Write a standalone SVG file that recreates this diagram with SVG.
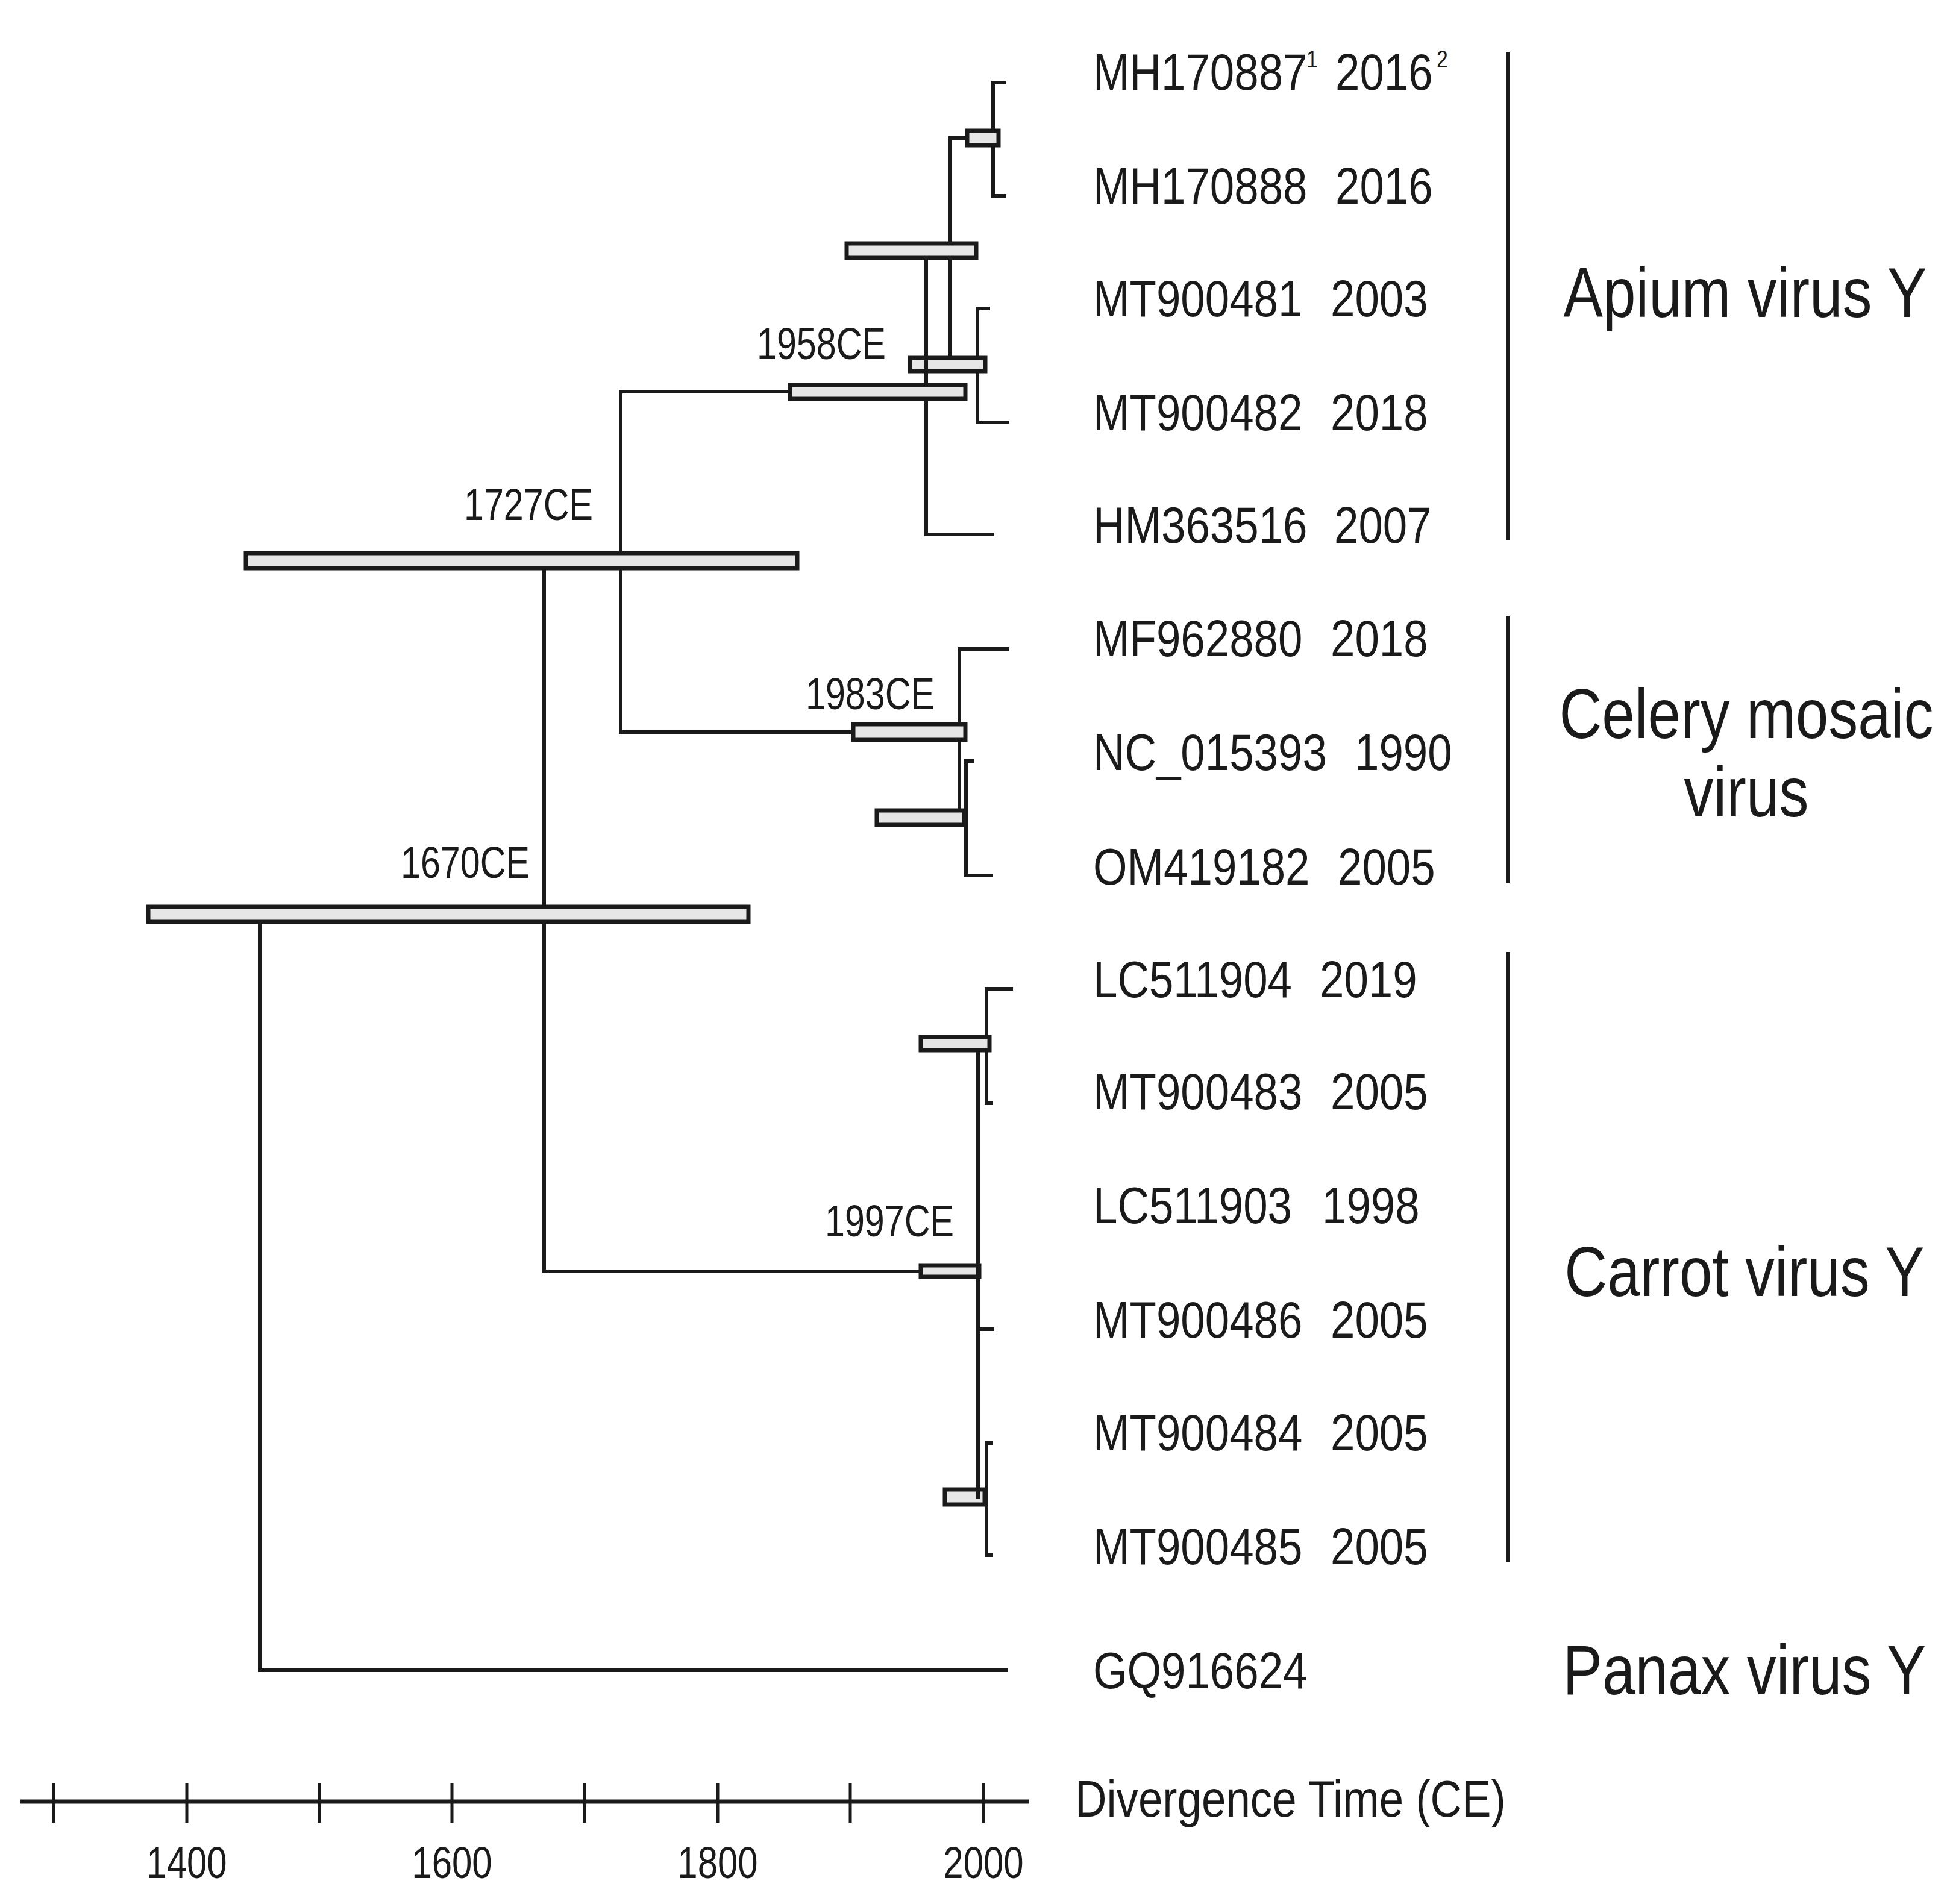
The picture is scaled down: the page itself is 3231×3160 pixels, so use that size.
<svg xmlns="http://www.w3.org/2000/svg" width="3231" height="3160" viewBox="0 0 3231 3160">
<style>
.br{stroke:#1a1a1a;stroke-width:6;fill:none;stroke-linecap:square}
.hpd{fill:#e6e6e6;stroke:#1a1a1a;stroke-width:7}
.bar{stroke:#1a1a1a;stroke-width:6;fill:none}
.ax{stroke:#1a1a1a;fill:none}
text{font-family:"Liberation Sans",Arial,sans-serif;fill:#1a1a1a}
.tax{font-size:86px}
.sup{font-size:40px}
.nl{font-size:74px}
.grp{font-size:116px;text-anchor:middle}
.axl{font-size:74px;text-anchor:middle}
</style>
<rect width="3231" height="3160" fill="#ffffff"/>

<g id="connectors">
<path class="br" d="M431,1517V2772H1669 M431,1517H903 M903,930V2110H1625 M903,930H1030 M1030,650V1215H1592 M1030,650H1537 M1537,416V887H1647 M1537,416H1577 M1577,229V605H1622 M1577,229H1648 M1648,137V325 M1648,137H1667 M1648,325H1667 M1622,512V701 M1622,512H1640 M1622,701H1672 M1592,1077V1357H1603 M1592,1077H1672 M1603,1263V1453 M1603,1263H1613 M1603,1453H1645 M1623,1732V2485H1637 M1623,1732H1637 M1623,2206H1647 M1637,1641V1831 M1637,1641H1678 M1637,1831H1645 M1637,2395V2581 M1637,2395H1645 M1637,2581H1645"/>
</g>

<g id="node-N1"><rect class="hpd" x="1605" y="217" width="52" height="24"/></g>
<g id="node-N3"><rect class="hpd" x="1405" y="404" width="215" height="24"/></g>
<g id="node-N2"><rect class="hpd" x="1510" y="594" width="125" height="22"/></g>
<g id="node-1958"><rect class="hpd" x="1311" y="639" width="291" height="23"/><text class="nl" transform="translate(1256,596) scale(0.8,1)">1958CE</text></g>
<g id="node-1727"><rect class="hpd" x="408" y="918" width="915" height="25"/><text class="nl" transform="translate(770,863) scale(0.8,1)">1727CE</text></g>
<g id="node-1983"><rect class="hpd" x="1416" y="1202" width="186" height="26"/><text class="nl" transform="translate(1337,1177) scale(0.8,1)">1983CE</text></g>
<g id="node-N6"><rect class="hpd" x="1455" y="1345" width="145" height="24"/></g>
<g id="node-1670"><rect class="hpd" x="246" y="1505" width="996" height="25"/><text class="nl" transform="translate(665,1457) scale(0.8,1)">1670CE</text></g>
<g id="node-NA"><rect class="hpd" x="1528" y="1721" width="114" height="22"/></g>
<g id="node-1997"><rect class="hpd" x="1528" y="2100" width="97" height="19"/><text class="nl" transform="translate(1369,2052) scale(0.8,1)">1997CE</text></g>
<g id="node-NB"><rect class="hpd" x="1568" y="2472" width="66" height="25"/></g>

<g id="connector-overlays">
<path class="br" d="M1537,431V637 M1623,1746V2485"/>
</g>

<g id="tip-MH170887"><text class="tax" transform="translate(1814,149) scale(0.845,1)">MH170887</text><text class="sup" transform="translate(2168,112) scale(0.845,1)">1</text><text class="tax" transform="translate(2216,149) scale(0.845,1)">2016</text><text class="sup" transform="translate(2384,112) scale(0.845,1)">2</text></g>
<g id="tip-MH170888"><text class="tax" transform="translate(1814,338) scale(0.845,1)">MH170888</text><text class="tax" transform="translate(2216,338) scale(0.845,1)">2016</text></g>
<g id="tip-MT900481"><text class="tax" transform="translate(1814,525) scale(0.845,1)">MT900481</text><text class="tax" transform="translate(2208,525) scale(0.845,1)">2003</text></g>
<g id="tip-MT900482"><text class="tax" transform="translate(1814,714) scale(0.845,1)">MT900482</text><text class="tax" transform="translate(2208,714) scale(0.845,1)">2018</text></g>
<g id="tip-HM363516"><text class="tax" transform="translate(1814,901) scale(0.845,1)">HM363516</text><text class="tax" transform="translate(2214,901) scale(0.845,1)">2007</text></g>
<g id="tip-MF962880"><text class="tax" transform="translate(1814,1089) scale(0.845,1)">MF962880</text><text class="tax" transform="translate(2208,1089) scale(0.845,1)">2018</text></g>
<g id="tip-NC_015393"><text class="tax" transform="translate(1814,1278) scale(0.845,1)">NC_015393</text><text class="tax" transform="translate(2248,1278) scale(0.845,1)">1990</text></g>
<g id="tip-OM419182"><text class="tax" transform="translate(1814,1468) scale(0.845,1)">OM419182</text><text class="tax" transform="translate(2220,1468) scale(0.845,1)">2005</text></g>
<g id="tip-LC511904"><text class="tax" transform="translate(1814,1655) scale(0.845,1)">LC511904</text><text class="tax" transform="translate(2190,1655) scale(0.845,1)">2019</text></g>
<g id="tip-MT900483"><text class="tax" transform="translate(1814,1841) scale(0.845,1)">MT900483</text><text class="tax" transform="translate(2208,1841) scale(0.845,1)">2005</text></g>
<g id="tip-LC511903"><text class="tax" transform="translate(1814,2030) scale(0.845,1)">LC511903</text><text class="tax" transform="translate(2194,2030) scale(0.845,1)">1998</text></g>
<g id="tip-MT900486"><text class="tax" transform="translate(1814,2220) scale(0.845,1)">MT900486</text><text class="tax" transform="translate(2208,2220) scale(0.845,1)">2005</text></g>
<g id="tip-MT900484"><text class="tax" transform="translate(1814,2407) scale(0.845,1)">MT900484</text><text class="tax" transform="translate(2208,2407) scale(0.845,1)">2005</text></g>
<g id="tip-MT900485"><text class="tax" transform="translate(1814,2596) scale(0.845,1)">MT900485</text><text class="tax" transform="translate(2208,2596) scale(0.845,1)">2005</text></g>
<g id="tip-GQ916624"><text class="tax" transform="translate(1814,2802) scale(0.845,1)">GQ916624</text></g>

<g id="group-apium"><line class="bar" x1="2503" y1="87" x2="2503" y2="896"/><text class="grp" transform="translate(2896,526) scale(0.845,1)">Apium virus Y</text></g>
<g id="group-celery"><line class="bar" x1="2503" y1="1023" x2="2503" y2="1465"/><text class="grp" transform="translate(2898,1225) scale(0.845,1)">Celery mosaic</text><text class="grp" transform="translate(2898,1355) scale(0.845,1)">virus</text></g>
<g id="group-carrot"><line class="bar" x1="2503" y1="1580" x2="2503" y2="2592"/><text class="grp" transform="translate(2895,2151) scale(0.845,1)">Carrot virus Y</text></g>
<g id="group-panax"><text class="grp" transform="translate(2895,2812) scale(0.845,1)">Panax virus Y</text></g>

<g id="axis">
<line class="ax" stroke-width="7" x1="33" y1="2990" x2="1708" y2="2990"/>
<path class="ax" stroke-width="5" d="M89,2960V3025 M310,2960V3025 M530,2960V3025 M750,2960V3025 M970,2960V3025 M1191,2960V3025 M1411,2960V3025 M1632,2960V3025"/>
<text class="axl" transform="translate(310,3117) scale(0.81,1)">1400</text>
<text class="axl" transform="translate(750,3117) scale(0.81,1)">1600</text>
<text class="axl" transform="translate(1191,3117) scale(0.81,1)">1800</text>
<text class="axl" transform="translate(1632,3117) scale(0.81,1)">2000</text>
<text class="tax" transform="translate(1784,3015) scale(0.845,1)">Divergence Time (CE)</text>
</g>
</svg>
